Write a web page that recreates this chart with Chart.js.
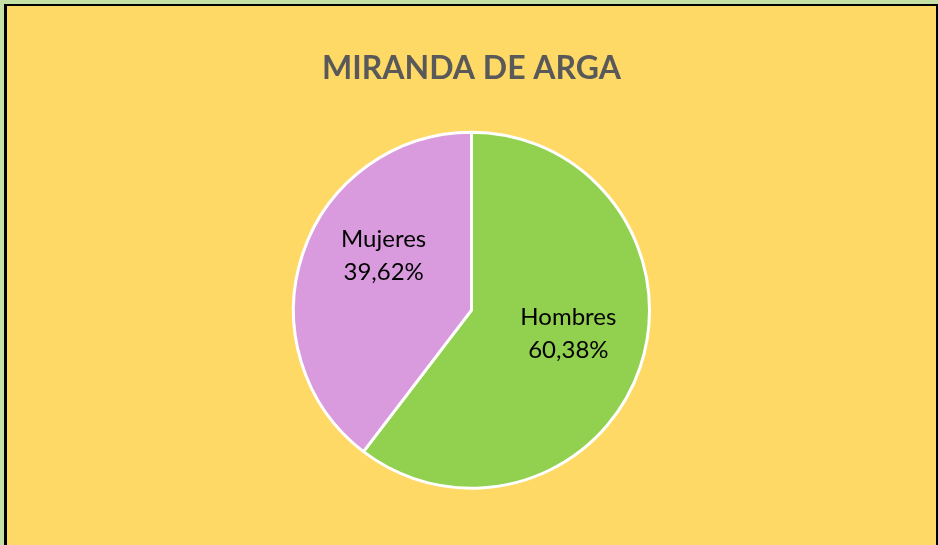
<!DOCTYPE html>
<html>
<head>
<meta charset="utf-8">
<script src="https://cdn.jsdelivr.net/npm/chart.js@4/dist/chart.umd.min.js"></script>
<style>
  html, body { margin: 0; padding: 0; background: #C5E0A5; width: 938px; height: 545px; overflow: hidden; }
  #frame { position: absolute; left: 4px; top: 4px; width: 929px; height: 545px; background: #FFD966;
           border-left: 3px solid #000; border-top: 2px solid #000; border-right: 2px solid #000; }
  #wrap { position: absolute; left: 0; top: 0; width: 929px; height: 539px; }
</style>
</head>
<body>
<div id="frame"><div id="wrap"><canvas id="c"></canvas></div></div>
<script>
const title = 'MIRANDA DE ARGA';
const categories = ['Hombres', 'Mujeres'];
const percentages = [60.38, 39.62];
const percentLabels = ['60,38%', '39,62%'];
const colors = ['#92D050', '#D99BDE'];

const labelPlugin = {
  id: 'sliceLabels',
  afterDatasetsDraw(chart, args, opts) {
    const ctx = chart.ctx;
    const meta = chart.getDatasetMeta(0);
    ctx.save();
    ctx.fillStyle = '#000';
    ctx.font = opts.font;
    ctx.textAlign = 'center';
    ctx.textBaseline = 'middle';
    meta.data.forEach((arc, i) => {
      const p = arc.getProps(['x', 'y', 'startAngle', 'endAngle', 'outerRadius'], true);
      const mid = (p.startAngle + p.endAngle) / 2 + opts.angleShift[i] * Math.PI / 180;
      const r = p.outerRadius * opts.radiusFraction[i];
      const cx = p.x + Math.cos(mid) * r;
      const cy = p.y + Math.sin(mid) * r;
      ctx.fillText(categories[i], cx, cy - opts.lineGap / 2);
      ctx.fillText(percentLabels[i], cx, cy + opts.lineGap / 2);
    });
    ctx.restore();
  }
};

new Chart(document.getElementById('c'), {
  type: 'pie',
  data: {
    labels: categories,
    datasets: [{
      data: percentages,
      backgroundColor: colors,
      borderColor: '#FFFFFF',
      borderWidth: 3,
      radius: 178
    }]
  },
  options: {
    responsive: true,
    maintainAspectRatio: false,
    animation: false,
    layout: { padding: { bottom: 22 } },
    plugins: {
      legend: { display: false },
      tooltip: { enabled: false },
      title: {
        display: true,
        text: title,
        color: '#595959',
        font: { family: 'Lato', size: 32, weight: 'bold', lineHeight: 1.2 },
        padding: { top: 43, bottom: 10 }
      },
      sliceLabels: {
        font: '24px Lato',
        lineGap: 33,
        angleShift: [-5, 13],
        radiusFraction: [0.56, 0.58]
      }
    }
  },
  plugins: [labelPlugin]
});
</script>
</body>
</html>
